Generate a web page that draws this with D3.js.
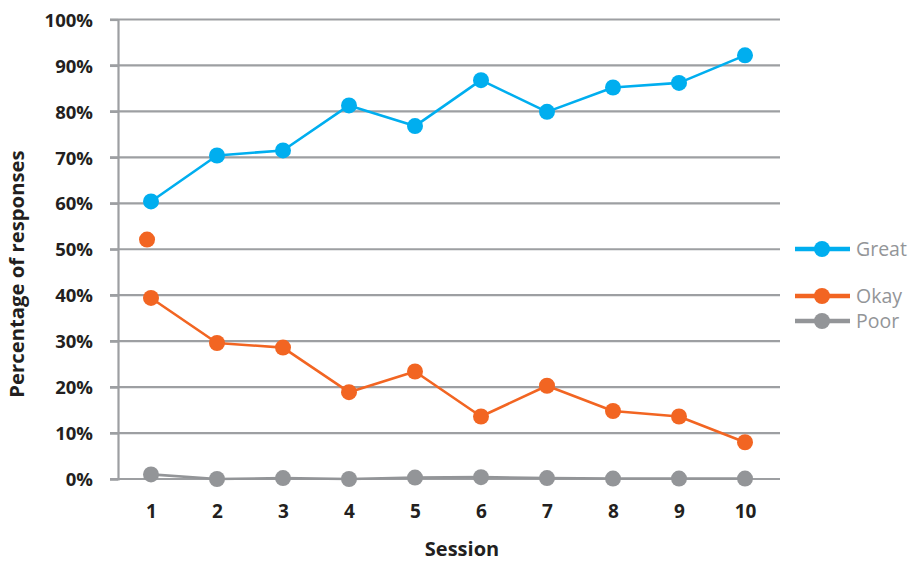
<!DOCTYPE html>
<html>
<head>
<meta charset="utf-8">
<script src="https://cdn.jsdelivr.net/npm/d3@7"></script>
<style>
body{margin:0;background:#fff;}
svg{display:block;}
</style>
</head>
<body>
<svg id="chart" width="914" height="563"></svg>
<script>
const sessions = [1,2,3,4,5,6,7,8,9,10];
const great = [60.4,70.4,71.5,81.3,76.8,86.8,79.9,85.2,86.2,92.2];
const okay  = [39.4,29.6,28.6,18.9,23.4,13.6,20.3,14.8,13.6,8.0];
const poor  = [1.0,0.0,0.2,0.0,0.3,0.4,0.2,0.1,0.1,0.1];
const okayExtra = [{session:0.94, value:52.1}];
const yTicks = [0,10,20,30,40,50,60,70,80,90,100];
const seriesNames = ["Great","Okay","Poor"];
const seriesColors = ["#00AEEF","#F26522","#939598"];

const svg = d3.select("#chart");
const font = "'Open Sans','Noto Sans',sans-serif";
const textColor = "#231F20";
const gridColor = "#9D9FA2";

const x = d3.scaleLinear().domain([0.5,10.5]).range([118,778]);
const y = d3.scaleLinear().domain([0,100]).range([479,19.5]);

// gridlines
svg.append("g").selectAll("line").data(yTicks).join("line")
  .attr("x1",110).attr("x2",780)
  .attr("y1",d=>y(d)).attr("y2",d=>y(d))
  .attr("stroke",gridColor).attr("stroke-width",2.2);

// y axis
const yAxis = d3.axisLeft(y).tickValues(yTicks).tickFormat(d=>d+"%").tickSize(8).tickPadding(17);
const gy = svg.append("g").attr("transform","translate(118,0)").call(yAxis);
gy.select(".domain").attr("stroke",gridColor).attr("stroke-width",2.2);
gy.selectAll(".tick line").attr("stroke",gridColor).attr("stroke-width",2.2);
gy.selectAll(".tick text").attr("font-family",font).attr("font-weight","bold")
  .attr("font-size",18.5).attr("fill",textColor).attr("dy","0.36em");

// x axis
const xAxis = d3.axisBottom(x).tickValues(sessions).tickFormat(d3.format("d")).tickSize(0).tickPadding(26);
const gx = svg.append("g").attr("transform","translate(0,479)").call(xAxis);
gx.select(".domain").remove();
gx.selectAll(".tick text").attr("font-family",font).attr("font-weight","bold")
  .attr("font-size",19).attr("fill",textColor);

// axis titles
svg.append("text").attr("x",462).attr("y",556).attr("text-anchor","middle")
  .attr("font-family",font).attr("font-weight","bold").attr("font-size",20)
  .attr("fill",textColor).text("Session");
svg.append("text").attr("transform","translate(24,274) rotate(-90)").attr("text-anchor","middle")
  .attr("font-family",font).attr("font-weight","bold").attr("font-size",20.3)
  .attr("fill",textColor).text("Percentage of responses");

// series
const data = [great, okay, poor];
const line = d3.line().x((d,i)=>x(sessions[i])).y(d=>y(d));
const order = [2,1,0];
order.forEach(k=>{
  const g = svg.append("g");
  g.append("path").datum(data[k]).attr("d",line).attr("fill","none")
    .attr("stroke",seriesColors[k]).attr("stroke-width",2.6).attr("stroke-linejoin","round");
  g.selectAll("circle").data(data[k]).join("circle")
    .attr("cx",(d,i)=>x(sessions[i])).attr("cy",d=>y(d)).attr("r",8)
    .attr("fill",seriesColors[k]);
});
svg.append("g").selectAll("circle").data(okayExtra).join("circle")
  .attr("cx",d=>x(d.session)).attr("cy",d=>y(d.value)).attr("r",8).attr("fill",seriesColors[1]);

// legend
const legendY = [249,296,321];
seriesNames.forEach((name,k)=>{
  const g = svg.append("g").attr("transform",`translate(795,${legendY[k]})`);
  g.append("line").attr("x1",0).attr("x2",55).attr("y1",0).attr("y2",0)
    .attr("stroke",seriesColors[k]).attr("stroke-width",4.5);
  g.append("circle").attr("cx",27).attr("cy",0).attr("r",8).attr("fill",seriesColors[k]);
  g.append("text").attr("x",61).attr("y",0).attr("dy","0.36em")
    .attr("font-family",font).attr("font-size",19.5).attr("fill","#939598").text(name);
});
</script>
</body>
</html>
